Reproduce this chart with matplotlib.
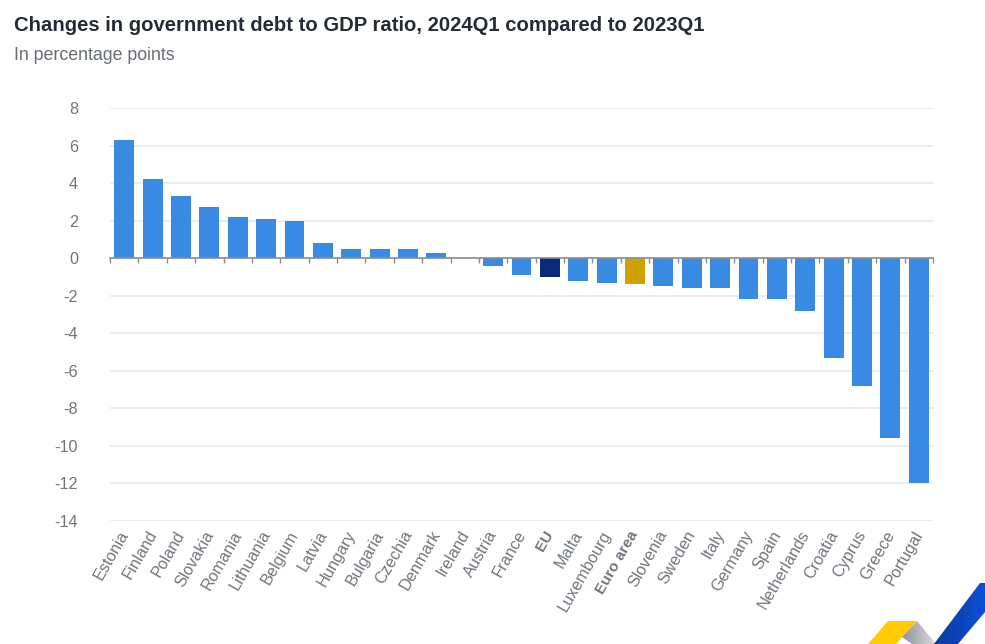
import numpy as np
import matplotlib
matplotlib.use("Agg")
import matplotlib.pyplot as plt
from matplotlib.colors import LinearSegmentedColormap
from matplotlib.patches import Polygon

# --- data ---
COUNTRIES = [
    'Estonia', 'Finland', 'Poland', 'Slovakia', 'Romania', 'Lithuania', 'Belgium',
    'Latvia', 'Hungary', 'Bulgaria', 'Czechia', 'Denmark', 'Ireland', 'Austria',
    'France', 'EU', 'Malta', 'Luxembourg', 'Euro area', 'Slovenia', 'Sweden',
    'Italy', 'Germany', 'Spain', 'Netherlands', 'Croatia', 'Cyprus', 'Greece',
    'Portugal'
]
CHANGES = [
    6.3, 4.2, 3.3, 2.7, 2.2, 2.1, 2.0, 0.8, 0.5, 0.5, 0.5, 0.3, 0.0, -0.4,
    -0.9, -1.0, -1.2, -1.3, -1.4, -1.5, -1.6, -1.6, -2.2, -2.2, -2.8, -5.3,
    -6.8, -9.6, -12.0
]
Y_TICKS = [8, 6, 4, 2, 0, -2, -4, -6, -8, -10, -12, -14]

BAR_BLUE = '#388ae2'
EU_BLUE = '#082a78'
EA_GOLD = '#cfa200'
HIGHLIGHT = {'EU': EU_BLUE, 'Euro area': EA_GOLD}

W, H = 985, 644
plt.rcParams['font.family'] = ['Liberation Sans', 'DejaVu Sans']
plt.rcParams['axes.unicode_minus'] = False

fig = plt.figure(figsize=(W / 100, H / 100), dpi=100)
ax = fig.add_axes([110 / W, 1 - 521 / H, 823 / W, 413 / H])

x = np.arange(len(COUNTRIES))
colors = [HIGHLIGHT.get(c, BAR_BLUE) for c in COUNTRIES]
ax.bar(x, CHANGES, width=0.7, color=colors, zorder=3)

ax.set_xlim(-0.5, len(COUNTRIES) - 0.5)
ax.set_ylim(-14, 8)
ax.set_yticks(Y_TICKS)
ax.grid(axis='y', color='#e6eaf3', linewidth=1.2, zorder=0)
ax.tick_params(axis='y', length=0, pad=23, labelsize=11.7, labelcolor='#70757f')

for side in ['top', 'left', 'right']:
    ax.spines[side].set_visible(False)
ax.spines['bottom'].set_position(('data', 0))
ax.spines['bottom'].set_color('#8a8d93')
ax.spines['bottom'].set_linewidth(1.2)
ax.spines['bottom'].set_zorder(4)

# ticks sit on the category boundaries, labels hang under the plot
ax.set_xticks(x[:-1] + 0.5, minor=True)
ax.set_xticks(np.r_[-0.5, len(COUNTRIES) - 0.5], minor=False, labels=[])
ax.tick_params(axis='x', which='both', length=3.5, width=1, color='#8a8d93')

label_tf = ax.get_xaxis_transform()
for pos, name in zip(x, COUNTRIES):
    bold = name in HIGHLIGHT
    ax.annotate(
        name, xy=(pos, 0), xycoords=label_tf, xytext=(-6, -7), textcoords='offset pixels',
        rotation=60, rotation_mode='anchor', ha='right', va='top',
        fontsize=11 if bold else 11.7, color='#70757f',
        fontweight='bold' if bold else 'normal',
    )

fig.text(14 / W, 1 - 31 / H, 'Changes in government debt to GDP ratio, 2024Q1 compared to 2023Q1',
         fontsize=14.6, fontweight='bold', color='#262b38')
fig.text(14 / W, 1 - 60 / H, 'In percentage points', fontsize=12.75, color='#666b75')

# corner logo, drawn in pixel coordinates
logo = fig.add_axes([0, 0, 1, 1], zorder=5)
logo.set_xlim(0, W)
logo.set_ylim(H, 0)
logo.axis('off')
logo.patch.set_alpha(0)


def gradient_shape(points, start, end, extent):
    cmap = LinearSegmentedColormap.from_list('logo', [start, end])
    img = logo.imshow(np.linspace(0, 1, 64).reshape(1, -1), cmap=cmap, extent=extent,
                      aspect='auto', zorder=2)
    shape = Polygon(points, transform=logo.transData, facecolor='none', edgecolor='none')
    logo.add_patch(shape)
    img.set_clip_path(shape)


logo.add_patch(Polygon([(868, 644), (888, 621), (917, 621), (902, 637), (896, 644)],
                       facecolor='#ffcb00', edgecolor='none', zorder=3))
gradient_shape([(917, 621), (936, 644), (912, 644), (902, 637)], '#8f9195', '#d8d9db',
               (900, 936, 644, 621))
gradient_shape([(980, 583), (985, 583), (985, 612), (958, 644), (934, 644)], '#0a3a9e', '#0d4fd6',
               (934, 985, 644, 583))
logo.set_xlim(0, W)
logo.set_ylim(H, 0)

fig.savefig('out.png', dpi=100)
